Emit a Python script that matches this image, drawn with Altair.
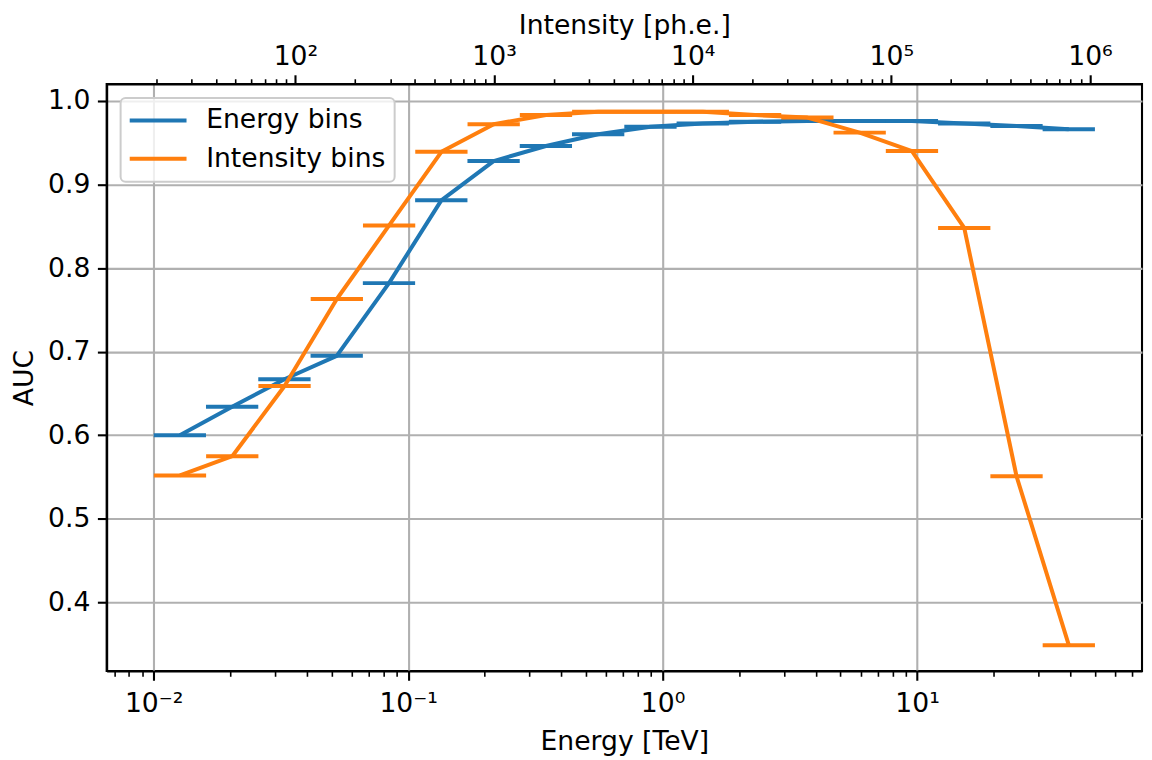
import math
import altair as alt
import pandas as pd

# ---------------- data ----------------
series_names = ["Energy bins", "Intensity bins"]
series_colors = ["#1f77b4", "#ff7f0e"]

# Energy bin edges [TeV] (bottom axis) and AUC per bin
energy_edges = [0.01, 0.01605, 0.02576, 0.04135, 0.06637, 0.1065, 0.1710,
                0.2745, 0.4405, 0.7071, 1.1349, 1.8217, 2.9240, 4.6931,
                7.5331, 12.091, 19.408, 31.151, 50.0]
energy_auc = [0.600, 0.634, 0.667, 0.695, 0.782, 0.881, 0.928, 0.946, 0.960,
              0.969, 0.973, 0.975, 0.976, 0.976, 0.976, 0.973, 0.970, 0.966]

# Intensity bin edges [ph.e.] (top axis) and AUC per bin
intensity_edges = [19.36, 35.50, 65.08, 119.31, 218.72, 400.97, 735.07,
                   1347.6, 2470.5, 4529.0, 8302.8, 15221, 27904, 51155,
                   93780, 171923, 315178, 577799, 1059254]
intensity_auc = [0.552, 0.575, 0.659, 0.763, 0.851, 0.939, 0.972, 0.983,
                 0.987, 0.987, 0.987, 0.983, 0.980, 0.962, 0.940, 0.848,
                 0.551, 0.349]

# axes
energy_domain = [0.0065328, 76.557]
intensity_domain = [11.207, 1827600]
auc_domain = [0.3181, 1.0201]
energy_major = [0.01, 0.1, 1, 10]
energy_major_labels = ["10⁻²", "10⁻¹", "10⁰", "10¹"]
intensity_major = [100, 1000, 10000, 100000, 1000000]
intensity_major_labels = ["10²", "10³", "10⁴", "10⁵", "10⁶"]
auc_ticks = [0.4, 0.5, 0.6, 0.7, 0.8, 0.9, 1.0]


def minor_ticks(domain):
    out = []
    lo, hi = domain
    for e in range(int(math.floor(math.log10(lo))), int(math.ceil(math.log10(hi))) + 1):
        for m in range(2, 10):
            v = round(m * 10.0 ** e, 12)
            if lo <= v <= hi:
                out.append(v)
    return out


def make_df(edges, auc, name):
    lo = edges[:-1]
    hi = edges[1:]
    center = [math.sqrt(a * b) for a, b in zip(lo, hi)]
    return pd.DataFrame({"lo": lo, "hi": hi, "center": center, "auc": auc, "series": name})


def major_test(majors):
    return "indexof([%s], datum.value) >= 0" % ",".join(repr(v) for v in majors)


def cond(test, major_val, minor_val):
    return {"condition": {"test": test, "value": major_val}, "value": minor_val}


def label_expr(majors, labels):
    expr = "''"
    for v, lab in reversed(list(zip(majors, labels))):
        expr = f"datum.value == {v!r} ? '{lab}' : ({expr})"
    return expr


df_e = make_df(energy_edges, energy_auc, series_names[0])
df_i = make_df(intensity_edges, intensity_auc, series_names[1])

FONT = "DejaVu Sans"
FS = 26.7
MAJ_LEN, MIN_LEN = 9.3, 5.3
MAJ_W, MIN_W = 2.1, 1.6
LW = 4

test_e = major_test(energy_major)
test_i = major_test(intensity_major)

ax_energy = alt.Axis(
    orient="bottom", title="Energy [TeV]",
    values=sorted(energy_major + minor_ticks(energy_domain)),
    labelExpr=label_expr(energy_major, energy_major_labels),
    labelBaseline="alphabetic", labelPadding=31.4, labelFlush=False, labelOverlap=False,
    tickSize=cond(test_e, MAJ_LEN, MIN_LEN), tickWidth=cond(test_e, MAJ_W, MIN_W),
    grid=True, gridOpacity=cond(test_e, 1, 0),
    titleBaseline="alphabetic", titleY=79,
)
ax_intensity = alt.Axis(
    orient="top", title="Intensity [ph.e.]",
    values=sorted(intensity_major + minor_ticks(intensity_domain)),
    labelExpr=label_expr(intensity_major, intensity_major_labels),
    labelBaseline="alphabetic", labelPadding=10.2, labelFlush=False, labelOverlap=False,
    tickSize=cond(test_i, MAJ_LEN, MIN_LEN), tickWidth=cond(test_i, MAJ_W, MIN_W),
    grid=False,
    titleBaseline="alphabetic", titleY=-50.6,
)
ax_auc = alt.Axis(
    values=auc_ticks, format=".1f", title="AUC",
    tickSize=MAJ_LEN, tickWidth=MAJ_W, labelPadding=7.5, grid=True,
    titleBaseline="alphabetic", titleX=-74, titleY=294.5,
)

xs_e = alt.Scale(type="log", domain=energy_domain, nice=False)
xs_i = alt.Scale(type="log", domain=intensity_domain, nice=False)
ys = alt.Scale(domain=auc_domain, nice=False, zero=False)

legend = alt.Legend(
    title=None, orient="none", legendX=14, legendY=14,
    symbolType="M-2.5,0H2.5", symbolSize=520, symbolStrokeWidth=LW,
    symbolOffset=15.15, labelOffset=34.7, padding=9, rowPadding=10.5,
    labelFont=FONT, labelFontSize=FS, labelColor="black", labelLimit=500,
    fillColor="rgba(255,255,255,0.8)", strokeColor="#cccccc",
    cornerRadius=5,
)
color = alt.Color("series:N", scale=alt.Scale(domain=series_names, range=series_colors),
                  legend=legend)
y_enc = alt.Y("auc:Q", scale=ys, axis=ax_auc)


def series_layer(df, xscale, axis):
    rule = alt.Chart(df).mark_rule(strokeWidth=LW).encode(
        x=alt.X("lo:Q", scale=xscale, axis=axis),
        x2="hi:Q",
        y=y_enc,
        color=color,
    )
    line = alt.Chart(df).mark_line(strokeWidth=LW, strokeJoin="round").encode(
        x=alt.X("center:Q", scale=xscale, axis=axis),
        y=y_enc,
        color=color,
    )
    return alt.layer(line, rule)


chart = (
    alt.layer(series_layer(df_e, xs_e, ax_energy), series_layer(df_i, xs_i, ax_intensity))
    .resolve_scale(x="independent")
    .properties(
        width=1039, height=589,
        autosize=alt.AutoSizeParams(type="none"),
        padding={"left": 99, "top": 75, "right": 2, "bottom": 86},
    )
    .configure_view(stroke="black", strokeWidth=2.1)
    .configure_axis(
        labelFont=FONT, labelFontSize=FS, labelColor="black",
        titleFont=FONT, titleFontSize=FS, titleFontWeight="normal", titleColor="black",
        domainColor="black", domainWidth=2.1, tickColor="black",
        gridColor="#b0b0b0", gridWidth=2.1,
    )
    .configure_legend(strokeWidth=2)
)

chart.save("out.html", embed_options={"renderer": "svg", "actions": False})
